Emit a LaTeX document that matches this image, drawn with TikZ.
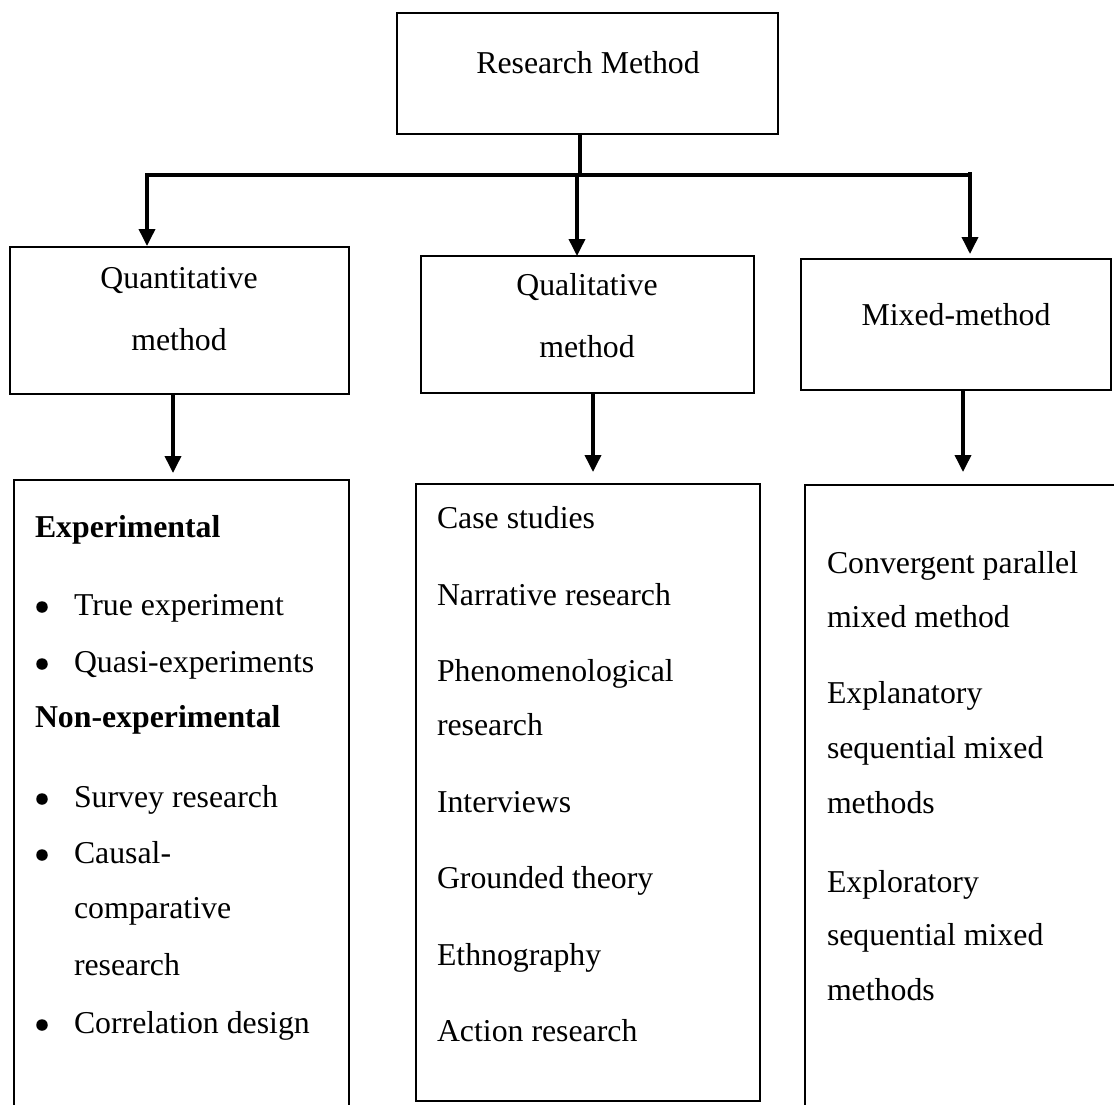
\documentclass[tikz,border=0pt]{standalone}
\usepackage{fontspec}
\setmainfont{Liberation Serif}
\usetikzlibrary{arrows.meta}
\tikzset{
  frame/.style={draw, line width=2.8pt, inner sep=0pt, outer sep=0pt, anchor=north west},
  lbl/.style={inner sep=0pt, outer sep=0pt, font=\fontsize{31.8pt}{38pt}\selectfont},
  txt/.style={lbl, anchor=base west},
  ctr/.style={lbl, anchor=base},
  dot/.style={circle, fill, inner sep=0pt, minimum size=11.5pt},
  link/.style={line width=3.6pt},
  arr/.style={link, -{Triangle[length=17pt,width=16pt]}},
}
\begin{document}
\begin{tikzpicture}[x=1pt,y=-1pt]
\clip (0,0) rectangle (1114,1104);
\fill[white] (0,0) rectangle (1114,1104);

% boxes
\node[frame, minimum width=381pt, minimum height=121pt] (rm) at (397,13) {};
\node[frame, minimum width=339pt, minimum height=147pt] (quant) at (10,247) {};
\node[frame, minimum width=333pt, minimum height=137pt] (qual) at (421,256) {};
\node[frame, minimum width=310pt, minimum height=131pt] (mixed) at (801,259) {};
\node[frame, minimum width=335pt, minimum height=650pt] (expbox) at (14,480) {};
\node[frame, minimum width=344pt, minimum height=617pt] (qualbox) at (416,484) {};
\node[frame, minimum width=330pt, minimum height=650pt] (mixbox) at (805,485) {};

% box titles
\node[ctr] (rmtxt) at (588,73) {Research Method};
\node[ctr] (quanta) at (179,288) {Quantitative};
\node[ctr] (quantb) at (179,350) {method};
\node[ctr] (quala) at (587,295) {Qualitative};
\node[ctr] (qualb) at (587,357) {method};
\node[ctr] (mixtxt) at (956,325) {Mixed-method};

% junction points of the top connector
\coordinate (hub) at (580,175);
\coordinate (jl) at (147,175);
\coordinate (jm) at (577,175);
\coordinate (jr) at (970,175);
\coordinate (jrtop) at (970,172);

\draw[link] (rm.south -| hub) -- (hub);
\draw[arr, line join=miter, shorten >=1pt] (jr) -- (jl) -- (quant.north -| jl);
\draw[arr, shorten >=0pt] (jm) -- (qual.north -| jm);
\draw[arr, shorten >=5pt] (jrtop) -- (mixed.north -| jr);

% arrows to the detail boxes
\coordinate (qx) at (173,0);
\coordinate (lx) at (593,0);
\coordinate (mx) at (963,0);
\draw[arr, shorten >=7pt] (quant.south -| qx) -- (expbox.north -| qx);
\draw[arr, shorten >=12pt] (qual.south -| lx) -- (qualbox.north -| lx);
\draw[arr, shorten >=13pt] (mixed.south -| mx) -- (mixbox.north -| mx);

% quantitative details
\node[txt, font=\fontsize{31.8pt}{38pt}\selectfont\bfseries] (e1) at (35,537) {Experimental};
\node[dot] (b1) at (42,607) {};
\node[txt] (e2) at (74,615) {True experiment};
\node[dot] (b2) at (42,664) {};
\node[txt] (e3) at (74,672) {Quasi-experiments};
\node[txt, font=\fontsize{31.8pt}{38pt}\selectfont\bfseries] (e4) at (35,727) {Non-experimental};
\node[dot] (b3) at (42,799) {};
\node[txt] (e5) at (74,807) {Survey research};
\node[dot] (b4) at (42,855) {};
\node[txt] (e6) at (74,863) {Causal-};
\node[txt] (e7) at (74,918) {comparative};
\node[txt] (e8) at (74,975) {research};
\node[dot] (b5) at (42,1025) {};
\node[txt] (e9) at (74,1033) {Correlation design};

% qualitative details
\node[txt] (q1) at (437,528) {Case studies};
\node[txt] (q2) at (437,605) {Narrative research};
\node[txt] (q3) at (437,681) {Phenomenological};
\node[txt] (q4) at (437,735) {research};
\node[txt] (q5) at (437,812) {Interviews};
\node[txt] (q6) at (437,888) {Grounded theory};
\node[txt] (q7) at (437,965) {Ethnography};
\node[txt] (q8) at (437,1041) {Action research};

% mixed-method details
\node[txt] (m1) at (827,573) {Convergent parallel};
\node[txt] (m2) at (827,627) {mixed method};
\node[txt] (m3) at (827,703) {Explanatory};
\node[txt] (m4) at (827,758) {sequential mixed};
\node[txt] (m5) at (827,813) {methods};
\node[txt] (m6) at (827,892) {Exploratory};
\node[txt] (m7) at (827,945) {sequential mixed};
\node[txt] (m8) at (827,1000) {methods};
\end{tikzpicture}
\end{document}
